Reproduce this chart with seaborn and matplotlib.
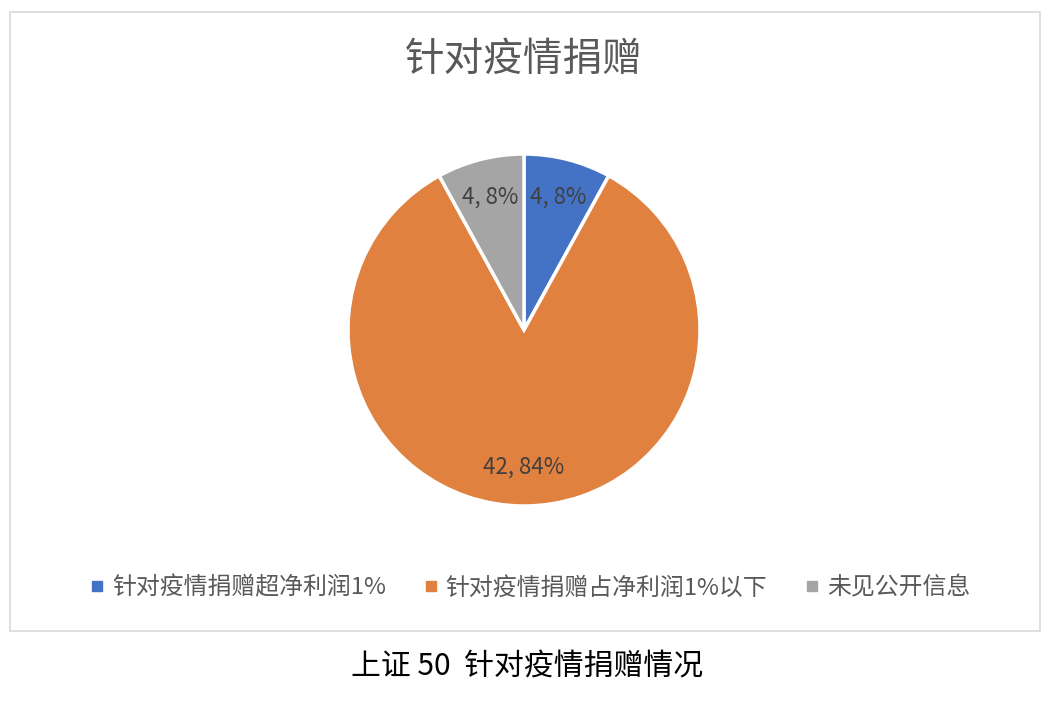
import matplotlib
matplotlib.use("Agg")
import matplotlib.pyplot as plt
from matplotlib.patches import Rectangle
from matplotlib.lines import Line2D
import seaborn as sns

categories = ["针对疫情捐赠超净利润1%", "针对疫情捐赠占净利润1%以下", "未见公开信息"]
values = [4, 42, 4]
colors = ["#4472C4", "#E0813F", "#A5A5A5"]
title = "针对疫情捐赠"
caption = "上证 50  针对疫情捐赠情况"

sns.set_style("white")
plt.rcParams["font.family"] = ["Noto Sans CJK SC", "DejaVu Sans"]

W, H = 1054, 702
fig = plt.figure(figsize=(W / 100, H / 100), dpi=100)
fig.patch.set_facecolor("white")

# chart border
fig.add_artist(Rectangle((10 / W, 1 - 631 / H), 1030 / W, 619 / H,
                         transform=fig.transFigure, fill=False,
                         edgecolor="#D9D9D9", linewidth=1.2))

cx, cy, r = 524, 330, 176
ax = fig.add_axes([(cx - r) / W, 1 - (cy + r) / H, 2 * r / W, 2 * r / H])
total = sum(values)


def fmt(p):
    return f"{round(p * total / 100)}, {p:.0f}%"


wedges, texts, autotexts = ax.pie(
    values, colors=colors, startangle=90, counterclock=False,
    autopct=fmt, pctdistance=0.78, radius=1,
    wedgeprops=dict(edgecolor="white", linewidth=2.5),
    textprops=dict(color="#404040", fontsize=16),
)
ax.set_xlim(-1, 1)
ax.set_ylim(-1, 1)
ax.axis("off")

fig.text(0.497, 1 - 60 / H, title, ha="center", va="center",
         fontsize=28.5, color="#595959")

handles = [Line2D([0], [0], marker="s", linestyle="none", markersize=7,
                  markerfacecolor=c, markeredgecolor=c) for c in colors]
fig.legend(handles, categories, loc="center", bbox_to_anchor=(0.503, 1 - 588 / H),
           ncol=3, frameon=False, fontsize=17.2, handlelength=0.6,
           handletextpad=0.3, columnspacing=1.6, labelcolor="#595959")

fig.text(0.5, 1 - 667 / H, caption, ha="center", va="center",
         fontsize=21.5, color="black")

fig.savefig("out.png", dpi=100, facecolor="white")
